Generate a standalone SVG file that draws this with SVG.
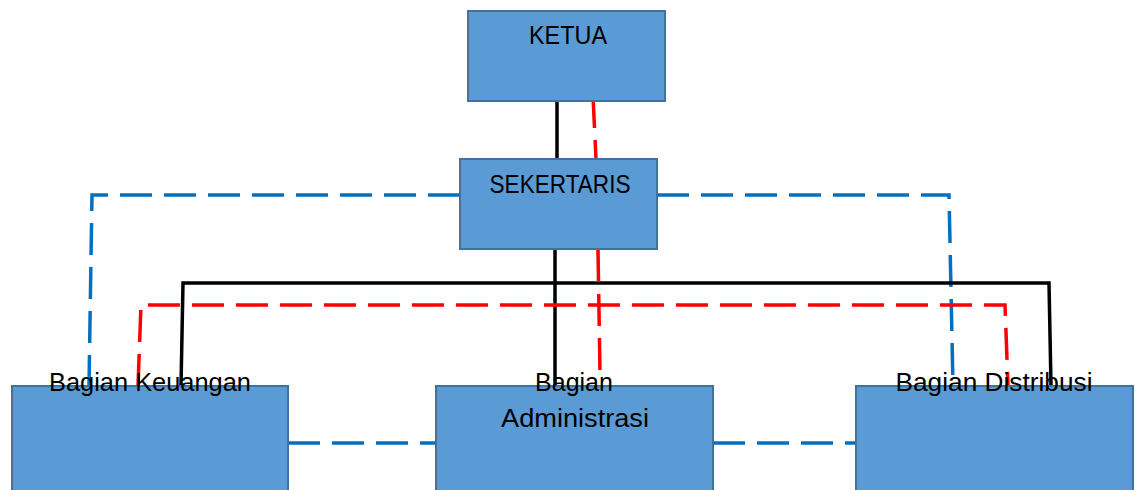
<svg xmlns="http://www.w3.org/2000/svg" width="1135" height="490" viewBox="0 0 1135 490">
<style>
.box{fill:#5B9BD5;stroke:#41719C;stroke-width:2}
.t{font-family:"Liberation Sans",Arial,sans-serif;font-size:25px;fill:#000;text-anchor:middle}
.blk{fill:none;stroke:#000;stroke-width:3.5}
.red{fill:none;stroke:#FF0000;stroke-width:3.5;stroke-dasharray:32 12}
.blu{fill:none;stroke:#0070C0;stroke-width:3.5;stroke-dasharray:32 12}
</style>
<rect width="1135" height="490" fill="#fff"/>
<g id="connectors">
<line class="blk" x1="557" y1="102" x2="557" y2="159"/>
<line class="red" x1="593" y1="96" x2="596" y2="159"/>
<path class="blu" d="M460,195 H92 L89,386"/>
<path class="blu" d="M657,195 H949 L953,386"/>
<line class="blk" x1="555" y1="250" x2="555" y2="386"/>
<path class="blk" d="M181,386 L183,283 H1049 L1051,386"/>
<line class="red" x1="598" y1="250" x2="600" y2="372"/>
<path class="red" d="M138,386 L141,305 H1005 L1008,386"/>
<line class="blu" x1="288" y1="443" x2="436" y2="443"/>
<line class="blu" x1="713" y1="443" x2="856" y2="443"/>
</g>
<g id="ketua">
<rect class="box" x="468" y="11" width="197" height="90"/>
<text class="t" x="568" y="44" textLength="78" lengthAdjust="spacingAndGlyphs">KETUA</text>
</g>
<g id="sekertaris">
<rect class="box" x="460" y="159" width="197" height="90"/>
<text class="t" x="560" y="193" textLength="141" lengthAdjust="spacingAndGlyphs">SEKERTARIS</text>
</g>
<g id="keuangan">
<rect class="box" x="12" y="386" width="276" height="110"/>
<text class="t" x="150" y="391" textLength="202" lengthAdjust="spacingAndGlyphs">Bagian Keuangan</text>
</g>
<g id="administrasi">
<rect class="box" x="436" y="386" width="277" height="110"/>
<text class="t" x="574" y="391">Bagian</text>
<text class="t" x="575" y="427" textLength="148" lengthAdjust="spacingAndGlyphs">Administrasi</text>
</g>
<g id="distribusi">
<rect class="box" x="856" y="386" width="277" height="110"/>
<text class="t" x="994" y="391" textLength="197" lengthAdjust="spacingAndGlyphs">Bagian Distribusi</text>
</g>
</svg>
